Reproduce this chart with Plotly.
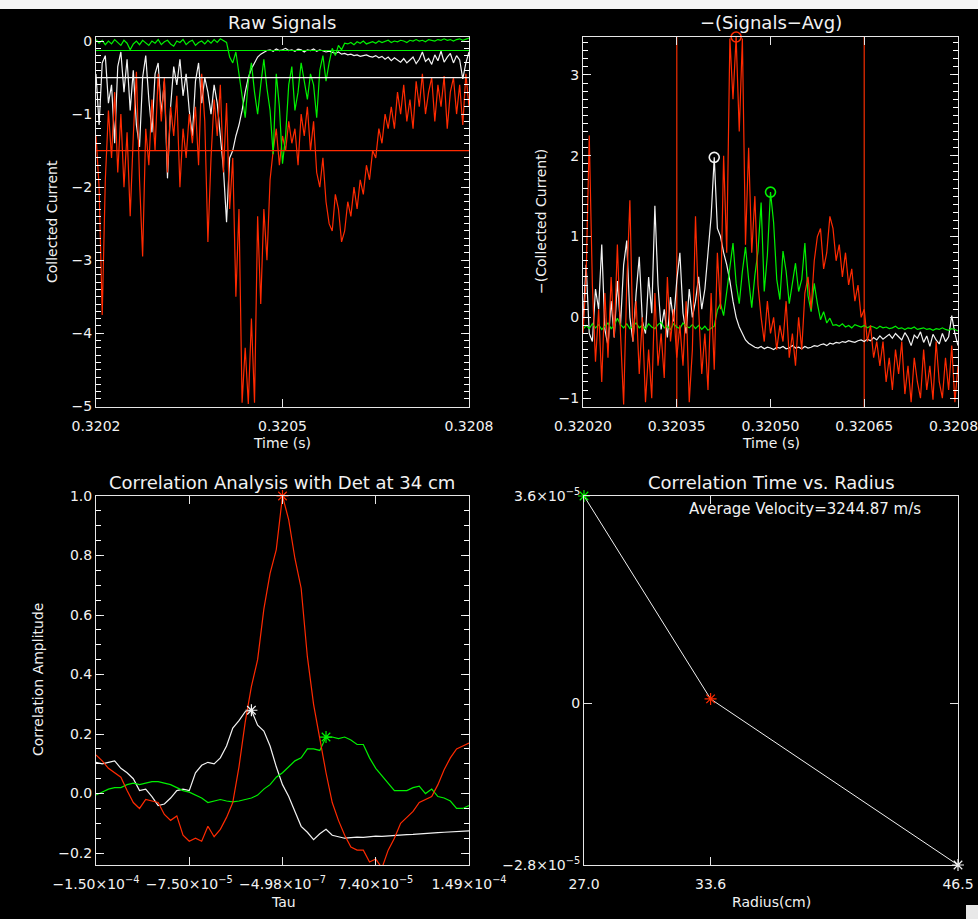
import numpy as np
import plotly.graph_objects as go

# ---------------- Data ----------------
time_start = 0.3202
time_step = 5e-6
n_time = 121
time_s = time_start + time_step * np.arange(n_time)

raw_white = [-0.45, -1.15, -0.30, -0.20, -0.85, -0.60, -1.40, -0.35, -0.15, -0.70,
             -0.25, -0.95, -0.40, -1.15, -1.45, -0.50, -0.20, -0.80, -1.25, -0.45,
             -0.30, -1.00, -0.55, -1.88, -0.90, -0.35, -0.60, -0.25, -0.75, -0.45,
             -0.95, -1.30, -0.55, -0.30, -0.85, -0.50, -0.70, -1.00, -0.60, -0.85,
             -1.30, -1.75, -2.48,
             -1.60, -1.50, -1.30, -1.15, -0.95, -0.70, -0.50, -0.38,
             -0.30, -0.22, -0.18, -0.15, -0.13, -0.12, -0.14, -0.11, -0.13, -0.12,
             -0.10, -0.13, -0.12, -0.14, -0.11, -0.12, -0.15, -0.12, -0.13, -0.11,
             -0.14, -0.12, -0.13, -0.15, -0.14, -0.16, -0.17, -0.15, -0.18, -0.17,
             -0.19, -0.18, -0.20, -0.19, -0.21, -0.20, -0.19, -0.21, -0.22, -0.20,
             -0.23, -0.21, -0.25, -0.22, -0.27, -0.23, -0.26, -0.29, -0.24, -0.30,
             -0.26, -0.22, -0.31, -0.25, -0.15, -0.28, -0.24, -0.32, -0.19, -0.27,
             -0.14, -0.29, -0.22, -0.17, -0.30, -0.20, -0.26, -0.52, -0.30, -0.15]

raw_green = [0.02, -0.03, 0.01, -0.05, 0.00, -0.04, 0.02, -0.02, -0.06, 0.01,
             -0.03, -0.12, -0.04, 0.00, -0.05, 0.01, -0.02, -0.06, 0.00, -0.03,
             0.02, -0.05, -0.01, 0.01, -0.04, -0.07, 0.00, -0.02, 0.02, -0.05,
             -0.01, 0.01, -0.06, -0.02, 0.00, -0.04, 0.01, -0.03, 0.02, -0.02,
             0.03, 0.01, -0.02,
             -0.22, -0.30, -0.15, -0.45, -0.75, -1.05, -0.55, -0.30, -0.70, -1.00,
             -0.60, -0.25, -0.65, -0.95, -1.55, -0.45, -0.90, -1.68, -1.30, -0.60,
             -0.35, -0.95, -0.70, -0.30, -0.55, -0.80, -0.45, -0.60, -1.05, -0.40,
             -0.20, -0.55, -0.30, -0.10, -0.20, -0.06, -0.12, -0.03,
             -0.04, -0.02, -0.05, -0.01, -0.03, 0.00, -0.04, -0.02, -0.01, -0.03,
             0.00, -0.02, -0.01, 0.01, -0.02, 0.00, -0.01, 0.01, 0.00, -0.02,
             0.01, 0.00, 0.02, 0.00, 0.01, -0.01, 0.02, 0.01, 0.00, 0.02,
             0.01, 0.03, 0.01, 0.02, 0.00, 0.02, 0.03, 0.01, 0.02, 0.04]

raw_red = [-1.3, -2.0, -3.75, -1.9, -0.95, -1.6, -0.7, -1.8, -1.0, -2.0,
           -1.25, -2.4, -1.3, -0.42, -1.9, -2.95, -1.2, -1.7, -0.8, -1.5,
           -0.45, -1.1, -0.5, -1.8, -0.9, -1.3, -0.75, -2.0, -1.2, -1.6,
           -1.0, -1.4, -0.9, -1.7, -0.45, -1.1, -2.75, -1.6, -0.8, -1.3,
           -0.6, -1.8, -0.85, -2.3, -1.6, -3.5, -2.3, -4.95, -4.2, -4.97,
           -3.8, -4.95, -2.4, -3.6, -2.3, -3.0, -1.9, -1.5, -1.2, -1.7,
           -1.3, -1.5, -1.1, -1.4, -1.2, -1.7, -1.0, -1.3, -0.9, -1.5,
           -1.1, -1.8, -2.0, -1.6, -2.2, -2.5, -2.6, -2.1, -2.3, -2.75,
           -2.6, -2.2, -2.4, -2.0, -2.3, -1.9, -2.1, -1.7, -1.9, -1.5,
           -1.6, -1.2, -1.4, -1.0, -1.2, -0.9, -1.2, -0.7, -1.0, -0.6,
           -1.1, -0.8, -1.2, -0.55, -0.9, -0.45, -1.0, -0.7, -0.5, -1.1,
           -0.6, -0.9, -0.48, -1.2, -0.7, -0.5, -1.0, -0.6, -1.15, -0.45,
           -0.9]

avg_white = -0.5
avg_green = -0.13
avg_red = -1.5
window_t = [0.32035, 0.32065]

tau = np.linspace(-1.5e-4, 1.49e-4, 61)
corr_white = [0.105, 0.10, 0.105, 0.11, 0.085, 0.07, 0.05, 0.01, 0.015, -0.01,
              -0.04, -0.035, -0.015, 0.01, 0.015, 0.01, 0.07, 0.095, 0.105, 0.10,
              0.12, 0.16, 0.22, 0.245, 0.275, 0.28, 0.23, 0.21, 0.16, 0.09,
              0.03, -0.01, -0.06, -0.11, -0.13, -0.155, -0.135, -0.12, -0.14, -0.145,
              -0.15, -0.148, -0.146, -0.147, -0.145, -0.143, -0.144, -0.142, -0.141, -0.14,
              -0.138, -0.137, -0.135, -0.134, -0.133, -0.131, -0.13, -0.129, -0.127, -0.126,
              -0.125]
corr_green = [-0.005, 0.005, 0.015, 0.02, 0.02, 0.03, 0.035, 0.03, 0.035, 0.04,
              0.04, 0.035, 0.03, 0.02, 0.01, 0.005, -0.005, -0.015, -0.03, -0.025,
              -0.02, -0.025, -0.028, -0.025, -0.02, -0.015, -0.005, 0.015, 0.03, 0.055,
              0.07, 0.09, 0.11, 0.12, 0.15, 0.15, 0.145, 0.19, 0.19, 0.185,
              0.19, 0.18, 0.165, 0.165, 0.12, 0.085, 0.06, 0.035, 0.01, 0.01,
              0.01, 0.02, 0.025, 0.00, 0.015, -0.01, -0.015, -0.025, -0.05, -0.05,
              -0.04]
corr_red = [0.13, 0.11, 0.085, 0.07, 0.055, 0.01, -0.03, -0.05, -0.02, -0.025,
            -0.03, -0.07, -0.09, -0.075, -0.14, -0.16, -0.15, -0.16, -0.11, -0.145,
            -0.12, -0.08, -0.03, 0.09, 0.24, 0.36, 0.45, 0.62, 0.74, 0.82,
            1.00, 0.92, 0.79, 0.69, 0.46, 0.30, 0.18, 0.07, -0.03, -0.09,
            -0.14, -0.18, -0.19, -0.19, -0.23, -0.22, -0.25, -0.19, -0.15, -0.10,
            -0.08, -0.06, -0.03, -0.02, -0.01, 0.03, 0.08, 0.12, 0.15, 0.16,
            0.17]

radius_cm = [27.0, 33.6, 46.5]
corr_time = [3.6e-5, 8e-7, -2.8e-5]
avg_velocity = 3244.87

# tick labels
p1_xticks = [0.3202, 0.3205, 0.3208]
p1_xlabels = ["0.3202", "0.3205", "0.3208"]
p2_xticks = [0.3202, 0.32035, 0.3205, 0.32065, 0.3208]
p2_xlabels = ["0.32020", "0.32035", "0.32050", "0.32065", "0.32080"]
p3_xticks = [-1.5e-4, -7.525e-5, -5e-7, 7.425e-5, 1.49e-4]
p3_xlabels = ["\u22121.50\u00d710<sup>\u22124</sup>", "\u22127.50\u00d710<sup>\u22125</sup>",
              "\u22124.98\u00d710<sup>\u22127</sup>", "7.40\u00d710<sup>\u22125</sup>",
              "1.49\u00d710<sup>\u22124</sup>"]
p4_xticks = [27.0, 33.6, 46.5]
p4_xlabels = ["27.0", "33.6", "46.5"]
p4_yticks = [-2.8e-5, 0, 3.6e-5]
p4_ylabels = ["\u22122.8\u00d710<sup>\u22125</sup>", "0", "3.6\u00d710<sup>\u22125</sup>"]

# ---------------- Style ----------------
W, H = 978, 919
WHITE = "#f2f2f2"
GREEN = "#00f000"
RED = "#ff2a00"
DRED = "#c42400"
AXC = "#e6e6e6"
FONT = "DejaVu Sans"


def fx(px):
    return px / W


def fy(py):
    return 1 - py / H


fig = go.Figure()

# Panel 1 : raw signals
for ys, c in [(raw_white, WHITE), (raw_red, RED), (raw_green, GREEN)]:
    fig.add_trace(go.Scatter(x=time_s, y=ys, mode="lines", line=dict(color=c, width=1.2),
                             xaxis="x", yaxis="y", hoverinfo="skip"))

# Panel 2 : -(signals - avg)
p2_sets = [(raw_white, avg_white, WHITE), (raw_green, avg_green, GREEN), (raw_red, avg_red, RED)]
for ys, av, c in p2_sets:
    v = -(np.array(ys) - av)
    fig.add_trace(go.Scatter(x=time_s, y=v, mode="lines", line=dict(color=c, width=1.2),
                             xaxis="x2", yaxis="y2", hoverinfo="skip"))
for ys, av, c in p2_sets:
    v = -(np.array(ys) - av)
    i = int(np.argmax(v))
    fig.add_trace(go.Scatter(x=[time_s[i]], y=[v[i]], mode="markers",
                             marker=dict(symbol="circle-open", size=10, color=c, line=dict(width=1.6, color=c)),
                             cliponaxis=False, xaxis="x2", yaxis="y2", hoverinfo="skip"))

# Panel 3 : correlation
for ys, c in [(corr_white, WHITE), (corr_green, GREEN), (corr_red, RED)]:
    fig.add_trace(go.Scatter(x=tau, y=ys, mode="lines", line=dict(color=c, width=1.2),
                             xaxis="x3", yaxis="y3", hoverinfo="skip"))
for ys, c in [(corr_white, WHITE), (corr_green, GREEN), (corr_red, RED)]:
    i = int(np.argmax(ys))
    fig.add_trace(go.Scatter(x=[tau[i]], y=[ys[i]], mode="markers",
                             marker=dict(symbol="asterisk-open", size=10, color=c, line=dict(width=1.2, color=c)),
                             cliponaxis=False, xaxis="x3", yaxis="y3", hoverinfo="skip"))

# Panel 4 : correlation time vs radius
fig.add_trace(go.Scatter(x=radius_cm, y=corr_time, mode="lines", line=dict(color=WHITE, width=1),
                         xaxis="x4", yaxis="y4", hoverinfo="skip"))
fig.add_trace(go.Scatter(x=radius_cm, y=corr_time, mode="markers",
                         marker=dict(symbol="asterisk-open", size=10, color=[GREEN, RED, WHITE],
                                     line=dict(width=1.2, color=[GREEN, RED, WHITE])),
                         cliponaxis=False, xaxis="x4", yaxis="y4", hoverinfo="skip"))

# transparent copies so that the minor-tick overlay axes get a subplot
fig.add_trace(go.Scatter(x=time_s, y=raw_white, mode="lines", line=dict(width=0), opacity=0,
                         xaxis="x", yaxis="y5", hoverinfo="skip"))
fig.add_trace(go.Scatter(x=time_s, y=-(np.array(raw_white) - avg_white), mode="lines",
                         line=dict(width=0), opacity=0, xaxis="x2", yaxis="y6", hoverinfo="skip"))
fig.add_trace(go.Scatter(x=tau, y=corr_white, mode="lines", line=dict(width=0), opacity=0,
                         xaxis="x3", yaxis="y7", hoverinfo="skip"))


def base_axis(domain, rng, anchor):
    return dict(domain=domain, range=rng,
                showline=True, linecolor=AXC, linewidth=1, mirror="ticks",
                ticks="inside", ticklen=8, tickwidth=1, tickcolor=AXC,
                showgrid=False, zeroline=False, anchor=anchor,
                automargin=False, tickangle=0, ticklabeloverflow="allow",
                tickfont=dict(family=FONT, size=14, color=WHITE))


def xaxis_arr(domain, rng, tv, tt, anchor):
    d = base_axis(domain, rng, anchor)
    d.update(tickmode="array", tickvals=tv, ticktext=tt, ticklabelstandoff=6)
    return d


def yaxis_lin(domain, rng, dtick, anchor, fmt=None):
    d = base_axis(domain, rng, anchor)
    d.update(tickmode="linear", tick0=0, dtick=dtick)
    if fmt:
        d["tickformat"] = fmt
    return d


def minor_axis(rng, dtick, overlay, anchor):
    # an overlaid axis carrying only the short minor tick marks
    return dict(range=rng, overlaying=overlay, anchor=anchor, side="left",
                tickmode="linear", tick0=0, dtick=dtick, ticks="inside", ticklen=5,
                tickwidth=1, tickcolor="#ffffff", showticklabels=False, showline=True,
                linecolor=AXC, linewidth=1, mirror="ticks", showgrid=False,
                zeroline=False, automargin=False)


xd_left = [fx(96), fx(469)]
xd_right2 = [fx(583), fx(958)]
xd_right4 = [fx(584), fx(958)]
yd_top = [fy(407), fy(37)]
yd_bot = [fy(865), fy(496)]

y1_range = [-5.01, 0.055]
y2_range = [-1.11, 3.47]
y3_range = [-0.24, 1.0]

y4 = base_axis(yd_bot, [-2.8e-5, 3.6e-5], "x4")
y4.update(tickmode="array", tickvals=p4_yticks, ticktext=p4_ylabels)

layout_axes = dict(
    xaxis=xaxis_arr(xd_left, [0.3202, 0.3208], p1_xticks, p1_xlabels, "y"),
    yaxis=yaxis_lin(yd_top, y1_range, 1, "x"),
    xaxis2=xaxis_arr(xd_right2, [0.3202, 0.3208], p2_xticks, p2_xlabels, "y2"),
    yaxis2=yaxis_lin(yd_top, y2_range, 1, "x2"),
    xaxis3=xaxis_arr(xd_left, [-1.5e-4, 1.49e-4], p3_xticks, p3_xlabels, "y3"),
    yaxis3=yaxis_lin(yd_bot, y3_range, 0.2, "x3", fmt=".1f"),
    xaxis4=xaxis_arr(xd_right4, [27.0, 46.5], p4_xticks, p4_xlabels, "y4"),
    yaxis4=y4,
    yaxis5=minor_axis(y1_range, 0.1, "y", "x"),
    yaxis6=minor_axis(y2_range, 0.1, "y2", "x2"),
    yaxis7=minor_axis(y3_range, 0.05, "y3", "x3"),
)

shapes = [
    # window chrome strip at top and corner grip
    dict(type="rect", xref="paper", yref="paper", x0=0, x1=1, y0=fy(9), y1=1,
         fillcolor="#f5f5f5", line=dict(width=0), layer="above"),
    dict(type="rect", xref="paper", yref="paper", x0=fx(966), x1=1, y0=0, y1=fy(905),
         fillcolor="#e8e8e8", line=dict(width=0), layer="above"),
]
for av, c in [(avg_green, GREEN), (avg_white, WHITE), (avg_red, RED)]:
    shapes.append(dict(type="line", xref="x domain", yref="y", x0=0, x1=1, y0=av, y1=av,
                       line=dict(color=c, width=1.2), layer="above"))
for tw in window_t:
    shapes.append(dict(type="line", xref="x2", yref="y2 domain", x0=tw, x1=tw, y0=0, y1=1,
                       line=dict(color=DRED, width=1.5), layer="below"))


def ann(text, x, y, size=14, angle=0):
    return dict(text=text, x=fx(x), y=fy(y), xref="paper", yref="paper", showarrow=False,
                xanchor="center", yanchor="middle", textangle=angle,
                font=dict(family=FONT, size=size, color=WHITE))


annotations = [
    ann("Raw Signals", 282, 23, 18),
    ann("\u2212(Signals\u2212Avg)", 771, 23, 18),
    ann("Correlation Analysis with Det at 34 cm", 282, 482, 18),
    ann("Correlation Time vs. Radius", 771, 482, 18),
    ann("Time (s)", 282, 443),
    ann("Time (s)", 771, 443),
    ann("Tau", 283, 902),
    ann("Radius(cm)", 771, 902),
    ann("Collected Current", 52, 222, 14, -90),
    ann("\u2212(Collected Current)", 541, 222, 14, -90),
    ann("Correlation Amplitude", 38, 680, 14, -90),
    ann("Average Velocity=%.2f m/s" % avg_velocity, 805, 509, 15),
]

fig.update_layout(
    width=W, height=H, autosize=False,
    margin=dict(l=0, r=0, t=0, b=0, autoexpand=False),
    paper_bgcolor="black", plot_bgcolor="black",
    showlegend=False,
    shapes=shapes, annotations=annotations,
    **layout_axes,
)

fig.write_html("out.html")
